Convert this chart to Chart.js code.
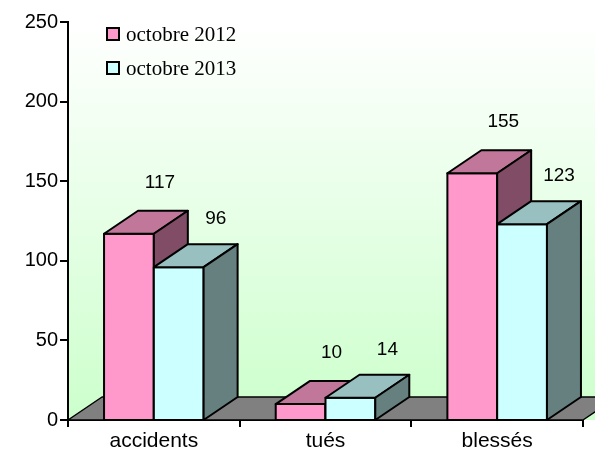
<!DOCTYPE html>
<html>
<head>
<meta charset="utf-8">
<script src="https://cdn.jsdelivr.net/npm/chart.js@4"></script>
<style>
body { margin: 0; background: #fff; }
#wrap { width: 595px; height: 453px; }
</style>
</head>
<body>
<div id="wrap"><canvas id="c" width="595" height="453"></canvas></div>
<script>
const categories = ['accidents', 'tués', 'blessés']
const oct2012 = [117, 10, 155]
const oct2013 = [96, 14, 123]
const seriesNames = ['octobre 2012', 'octobre 2013']
const yMax = 250
const yStep = 50

// depth of the fake 3d
const DX = 34, DY = 23
const faces = [
  { front: '#ff99cc', top: '#c0779a', side: '#804c66', labelDx: 31, labelDy: 28 },
  { front: '#ccffff', top: '#99c0c0', side: '#668080', labelDx: 37, labelDy: 25 }
]
const sansFont = '"Liberation Sans", Arial, sans-serif'
const serifFont = '"Liberation Serif", "Times New Roman", serif'

const poly = (ctx, pts, fill) => {
  ctx.beginPath()
  ctx.moveTo(pts[0][0], pts[0][1])
  for (let i = 1; i < pts.length; i++) ctx.lineTo(pts[i][0], pts[i][1])
  ctx.closePath()
  ctx.fillStyle = fill
  ctx.fill()
  ctx.stroke()
}

const wallPlugin = {
  id: 'wall',
  beforeDraw(chart) {
    const { ctx, chartArea } = chart
    const base = chart.scales.y.getPixelForValue(0)
    const g = ctx.createLinearGradient(0, chartArea.top, 0, base)
    g.addColorStop(0, '#ffffff')
    g.addColorStop(1, '#ccffcc')
    ctx.save()
    ctx.fillStyle = g
    ctx.fillRect(chartArea.left, chartArea.top + 4, chart.width - chartArea.left, base - chartArea.top - 4)
    ctx.restore()
  },
  beforeDatasetsDraw(chart) {
    const { ctx, chartArea } = chart
    const base = chart.scales.y.getPixelForValue(0)
    ctx.save()
    ctx.strokeStyle = '#000'
    ctx.lineWidth = 1.5
    ctx.lineJoin = 'round'
    poly(ctx, [
      [chartArea.left, base], [chartArea.left + DX, base - DY],
      [chartArea.right + DX, base - DY], [chartArea.right, base]
    ], '#808080')
    ctx.restore()
  }
}

const boxPlugin = {
  id: 'box3d',
  afterDatasetsDraw(chart) {
    const { ctx } = chart
    const base = chart.scales.y.getPixelForValue(0)
    ctx.save()
    ctx.strokeStyle = '#000'
    ctx.lineWidth = 2
    ctx.lineJoin = 'round'
    // each category: 2012 box first, 2013 box in front of its side
    for (let j = 0; j < categories.length; j++) {
      chart.data.datasets.forEach((ds, i) => {
        const f = faces[i]
        const bar = chart.getDatasetMeta(i).data[j]
        const x0 = bar.x - bar.width / 2, x1 = bar.x + bar.width / 2, t = bar.y
        poly(ctx, [[x0, t], [x1, t], [x1, base], [x0, base]], f.front)
        poly(ctx, [[x0, t], [x0 + DX, t - DY], [x1 + DX, t - DY], [x1, t]], f.top)
        poly(ctx, [[x1, t], [x1 + DX, t - DY], [x1 + DX, base - DY], [x1, base]], f.side)
      })
    }
    ctx.fillStyle = '#000'
    ctx.font = '19px ' + sansFont
    ctx.textAlign = 'center'
    ctx.textBaseline = 'middle'
    chart.data.datasets.forEach((ds, i) => {
      const f = faces[i]
      chart.getDatasetMeta(i).data.forEach((bar, j) => {
        ctx.fillText(ds.data[j], bar.x + f.labelDx, bar.y - DY - f.labelDy)
      })
    })
    ctx.restore()
  },
  afterDraw(chart) {
    const { ctx } = chart
    ctx.save()
    ctx.font = '21px ' + serifFont
    ctx.textBaseline = 'middle'
    ctx.strokeStyle = '#000'
    ctx.lineWidth = 2
    seriesNames.forEach((name, i) => {
      const y = 34 + i * 34
      ctx.fillStyle = faces[i].front
      ctx.fillRect(107, y - 6, 12, 12)
      ctx.strokeRect(107, y - 6, 12, 12)
      ctx.fillStyle = '#000'
      ctx.fillText(name, 126, y + 1)
    })
    ctx.restore()
  }
}

new Chart(document.getElementById('c'), {
  type: 'bar',
  data: {
    labels: categories,
    datasets: [
      { label: seriesNames[0], data: oct2012, backgroundColor: faces[0].front, borderWidth: 0 },
      { label: seriesNames[1], data: oct2013, backgroundColor: faces[1].front, borderWidth: 0 }
    ]
  },
  options: {
    responsive: false,
    animation: false,
    layout: { padding: { top: 22, right: 12, left: 0, bottom: 0 } },
    datasets: { bar: { categoryPercentage: 0.58, barPercentage: 1 } },
    plugins: {
      legend: { display: false },
      tooltip: { enabled: false }
    },
    scales: {
      x: {
        afterFit: s => { s.height = 33 },
        border: { color: '#000', width: 2 },
        grid: { drawOnChartArea: false, drawTicks: true, tickLength: 7, color: '#000', lineWidth: 2 },
        ticks: { color: '#000', padding: 2, font: { family: sansFont, size: 21 } }
      },
      y: {
        min: 0,
        max: yMax,
        afterFit: s => { s.width = 68 },
        border: { color: '#000', width: 2 },
        grid: { drawOnChartArea: false, drawTicks: true, tickLength: 8, color: '#000', lineWidth: 2 },
        ticks: { stepSize: yStep, color: '#000', padding: 2, font: { family: sansFont, size: 20 } }
      }
    }
  },
  plugins: [wallPlugin, boxPlugin]
})
</script>
</body>
</html>
